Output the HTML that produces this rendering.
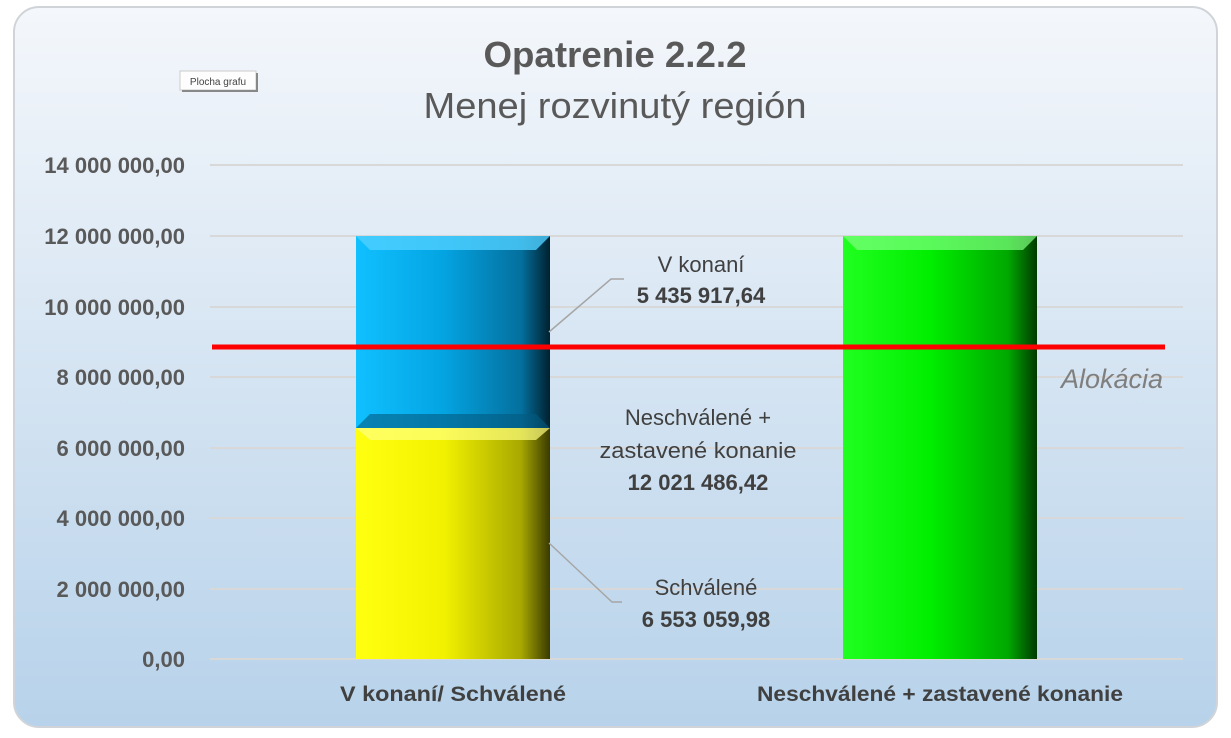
<!DOCTYPE html>
<html><head><meta charset="utf-8"><style>body{margin:0;background:#fff}svg{display:block}text{font-family:"Liberation Sans",sans-serif}</style></head><body>
<svg width="1231" height="738" viewBox="0 0 1231 738" xmlns="http://www.w3.org/2000/svg">
<defs>
<linearGradient id="bg" x1="0" y1="0" x2="0" y2="1"><stop offset="0" stop-color="#f4f7fb"/><stop offset="1" stop-color="#b7d2ea"/></linearGradient>
<linearGradient id="yel" x1="0" x2="1"><stop offset="0" stop-color="#ffff10"/><stop offset="0.45" stop-color="#f2f200"/><stop offset="0.85" stop-color="#a8a800"/><stop offset="1" stop-color="#3a3a00"/></linearGradient>
<linearGradient id="blu" x1="0" x2="1"><stop offset="0" stop-color="#10c0ff"/><stop offset="0.45" stop-color="#04a4e2"/><stop offset="0.85" stop-color="#04709e"/><stop offset="1" stop-color="#00212f"/></linearGradient>
<linearGradient id="grn" x1="0" x2="1"><stop offset="0" stop-color="#20ff20"/><stop offset="0.45" stop-color="#00ee00"/><stop offset="0.85" stop-color="#00a800"/><stop offset="1" stop-color="#003a00"/></linearGradient>
</defs>
<rect x="14" y="7" width="1203" height="720" rx="25" fill="url(#bg)" stroke="#d0d4d8" stroke-width="2"/>
<text x="615" y="67" text-anchor="middle" font-size="36" font-weight="bold" fill="#595959" textLength="263" lengthAdjust="spacingAndGlyphs">Opatrenie 2.2.2</text>
<text x="615" y="118" text-anchor="middle" font-size="36" fill="#595959" textLength="383" lengthAdjust="spacingAndGlyphs">Menej rozvinutý región</text>
<rect x="180" y="71" width="76" height="19" fill="#fdfdfd" stroke="#ccc"/>
<rect x="256" y="73" width="2" height="19" fill="#888"/><rect x="182" y="90" width="76" height="2" fill="#888"/>
<text x="218" y="85" text-anchor="middle" font-size="10" fill="#444">Plocha grafu</text>
<g stroke="#d8d8d8" stroke-width="2">
<line x1="210" x2="1183" y1="165" y2="165"/><line x1="210" x2="1183" y1="236" y2="236"/><line x1="210" x2="1183" y1="307" y2="307"/><line x1="210" x2="1183" y1="377" y2="377"/><line x1="210" x2="1183" y1="448" y2="448"/><line x1="210" x2="1183" y1="518" y2="518"/><line x1="210" x2="1183" y1="589" y2="589"/><line x1="210" x2="1183" y1="659" y2="659"/>
</g>
<g font-size="22" font-weight="bold" fill="#595959" text-anchor="end">
<text x="185" y="173">14 000 000,00</text><text x="185" y="244">12 000 000,00</text><text x="185" y="315">10 000 000,00</text><text x="185" y="385">8 000 000,00</text><text x="185" y="456">6 000 000,00</text><text x="185" y="526">4 000 000,00</text><text x="185" y="597">2 000 000,00</text><text x="185" y="667">0,00</text>
</g>
<rect x="356" y="428" width="194" height="231" fill="url(#yel)"/>
<polygon points="356,428 550,428 536,440 370,440" fill="#ffff80" opacity="0.7"/>
<rect x="356" y="236" width="194" height="192" fill="url(#blu)"/>
<polygon points="356,236 550,236 536,250 370,250" fill="#50d0ff" opacity="0.8"/>
<polygon points="356,428 550,428 536,414 370,414" fill="#035a80" opacity="0.6"/>
<rect x="843" y="236" width="194" height="423" fill="url(#grn)"/>
<polygon points="843,236 1037,236 1023,250 857,250" fill="#80ff80" opacity="0.7"/>
<polyline points="549,332 611,279 624,279" fill="none" stroke="#a6a6a6" stroke-width="1.5"/>
<polyline points="549,543 612,602 622,602" fill="none" stroke="#a6a6a6" stroke-width="1.5"/>
<line x1="212" x2="1165" y1="347" y2="347" stroke="#ff0000" stroke-width="5"/>
<g font-size="22" fill="#404040" text-anchor="middle">
<text x="701" y="272">V konaní</text><text x="701" y="303" font-weight="bold">5 435 917,64</text>
<text x="698" y="425">Neschválené +</text><text x="698" y="458" textLength="197" lengthAdjust="spacingAndGlyphs">zastavené konanie</text><text x="698" y="490" font-weight="bold">12 021 486,42</text>
<text x="706" y="595">Schválené</text><text x="706" y="627" font-weight="bold">6 553 059,98</text>
</g>
<text x="1163" y="388" text-anchor="end" font-size="27" font-style="italic" fill="#7f7f7f">Alokácia</text>
<g font-size="21" font-weight="bold" fill="#404040" text-anchor="middle">
<text x="453" y="701" textLength="226" lengthAdjust="spacingAndGlyphs">V konaní/ Schválené</text><text x="940" y="701" textLength="366" lengthAdjust="spacingAndGlyphs">Neschválené + zastavené konanie</text>
</g>
</svg>
</body></html>
